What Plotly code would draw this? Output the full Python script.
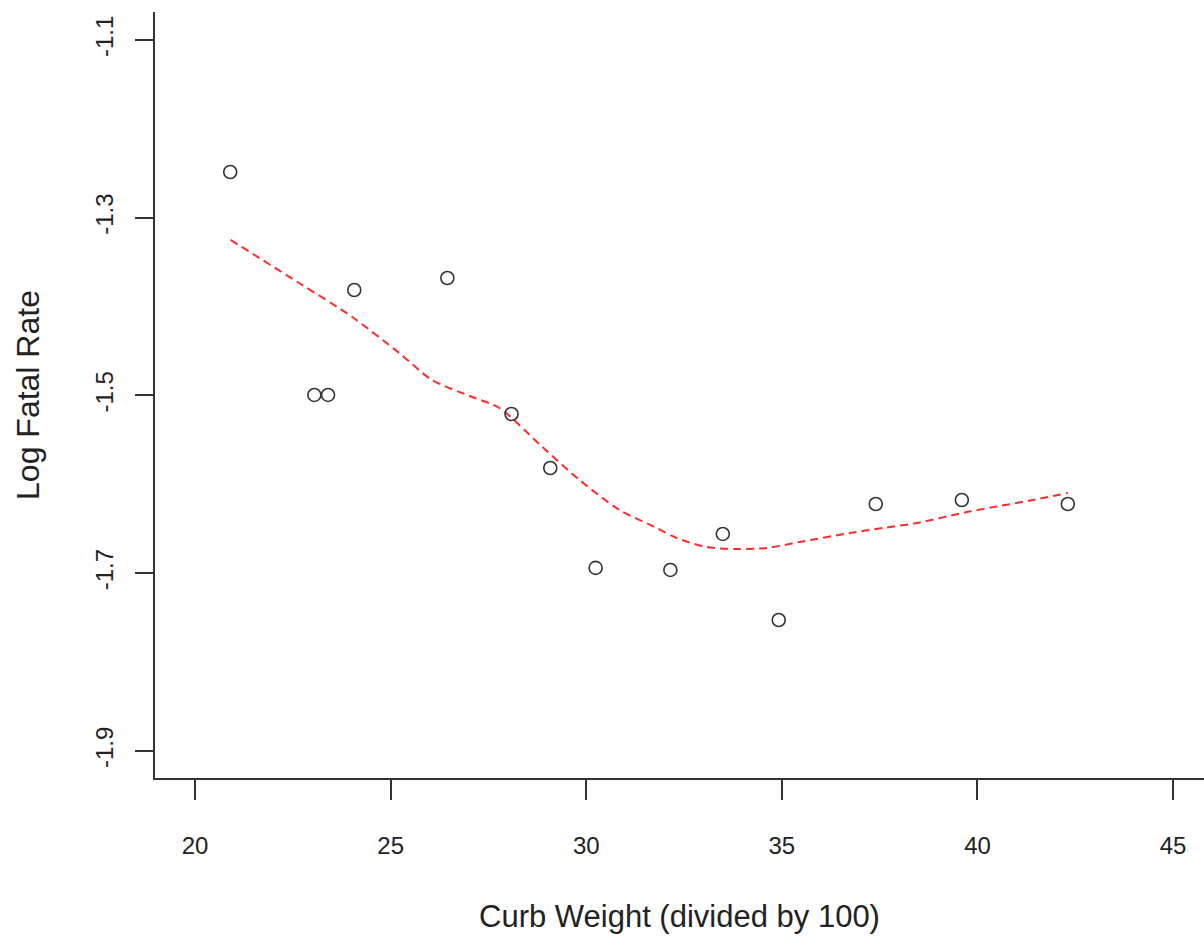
import plotly.graph_objects as go

# Observed data (curb weight / 100, log fatal rate)
curb_weight = [20.9, 23.05, 23.4, 24.07, 26.45, 28.09, 29.08, 30.24, 32.15, 33.49, 34.92, 37.40, 39.60, 42.31]
log_fatal = [-1.2485, -1.4994, -1.4994, -1.3813, -1.3678, -1.5208, -1.5816, -1.694, -1.6963, -1.6558, -1.7526, -1.6221, -1.6176, -1.6221]

# Smoothed (lowess) curve
smooth_x = [20.91, 22.66, 24.02, 25.22, 26.06, 27.09, 27.78, 28.88, 29.83, 30.85, 31.75, 32.31,
            33.08, 33.84, 34.61, 35.46, 36.74, 37.58, 38.45, 39.73, 40.57, 41.42, 42.31]
smooth_y = [-1.325, -1.3734, -1.4117, -1.4522, -1.4826, -1.5017, -1.5141, -1.558, -1.5951, -1.6288,
            -1.648, -1.6603, -1.6705, -1.6727, -1.6716, -1.6648, -1.6547, -1.6491, -1.6435, -1.6311,
            -1.6243, -1.6176, -1.6097]

x_ticks = [20, 25, 30, 35, 40, 45]
y_ticks = [-1.1, -1.3, -1.5, -1.7, -1.9]
y_tick_text = ["-1.1", "-1.3", "-1.5", "-1.7", "-1.9"]

FONT = "Liberation Sans, Arial, sans-serif"
AX = "#333333"

fig = go.Figure()
fig.add_trace(go.Scatter(
    x=smooth_x, y=smooth_y, mode="lines",
    line=dict(color="#ff2a2a", width=2, dash="8px,5px", shape="spline", smoothing=0.8),
    showlegend=False, hoverinfo="skip"))
fig.add_trace(go.Scatter(
    x=curb_weight, y=log_fatal, mode="markers",
    marker=dict(symbol="circle-open", size=13, color=AX, line=dict(width=1.6, color=AX)),
    showlegend=False))

fig.update_layout(
    width=1204, height=937, autosize=False,
    margin=dict(l=155, r=0, t=12, b=159),
    paper_bgcolor="white", plot_bgcolor="white",
    font=dict(family=FONT, color="#222222"),
    xaxis=dict(
        range=[18.977, 45.79], tickvals=x_ticks, ticktext=[str(v) for v in x_ticks],
        showgrid=False, zeroline=False, showline=True, linecolor=AX, linewidth=2,
        ticks="outside", ticklen=20, tickwidth=2, tickcolor=AX,
        tickfont=dict(size=24, family=FONT), ticklabelstandoff=25,
        title=dict(text="Curb Weight (divided by 100)", font=dict(size=31, family=FONT), standoff=48),
    ),
    yaxis=dict(
        range=[-1.9304, -1.0685], tickvals=y_ticks, ticktext=y_tick_text,
        showgrid=False, zeroline=False, showline=True, linecolor=AX, linewidth=2,
        ticks="outside", ticklen=18, tickwidth=2, tickcolor=AX,
        tickangle=-90, tickfont=dict(size=24, family=FONT), ticklabelstandoff=12,
        title=dict(text="Log Fatal Rate", font=dict(size=32, family=FONT), standoff=42),
    ),
)

fig.write_html("out.html", config={"displayModeBar": False},
               post_script="document.body.style.margin='0';")
